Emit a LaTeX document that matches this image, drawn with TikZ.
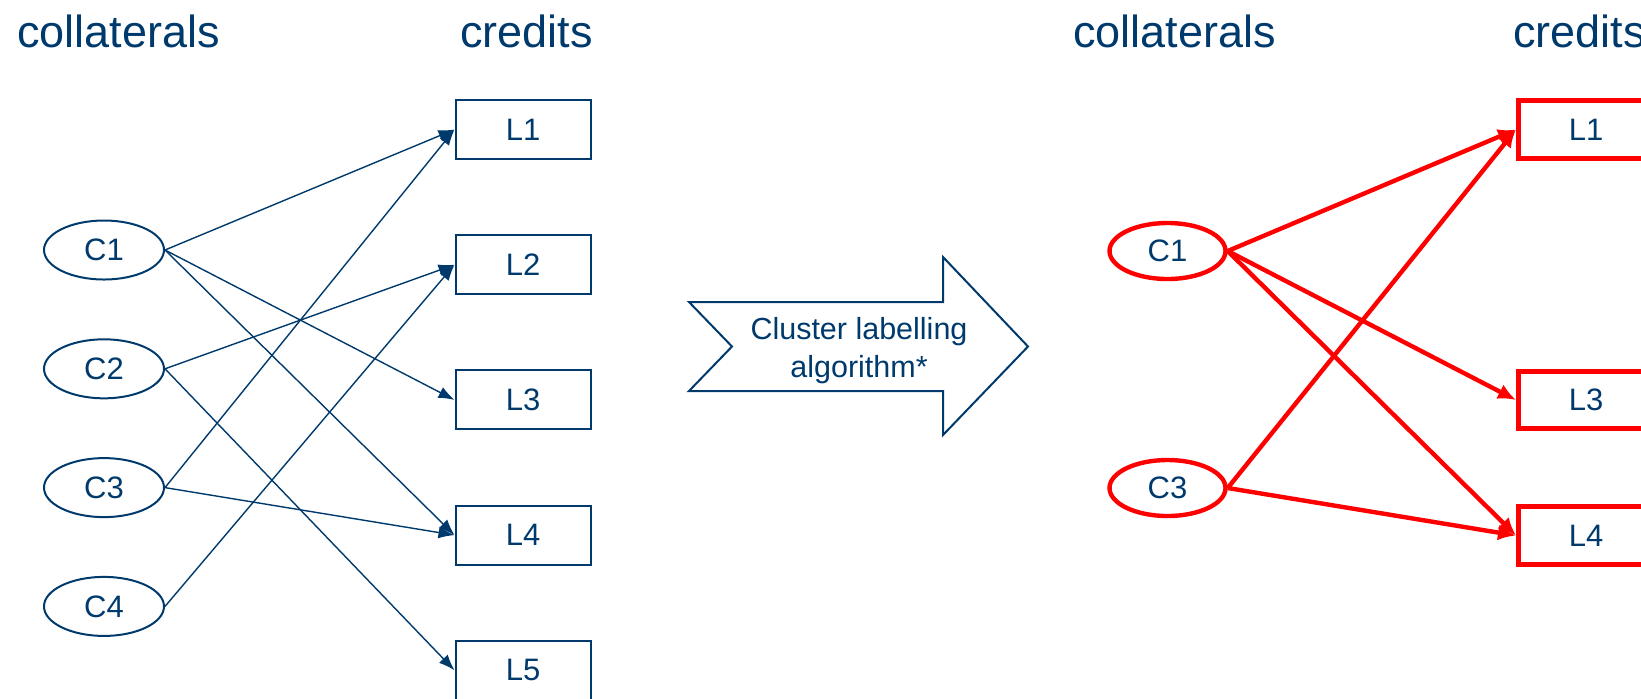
\documentclass[tikz,border=0pt]{standalone}
\usepackage{fontspec}
\setmainfont{Liberation Sans}
\usepackage{xcolor}
\usepackage{tikz}
\usetikzlibrary{shapes.geometric,arrows.meta}
\definecolor{navy}{HTML}{003A6C}
\definecolor{hotred}{RGB}{255,0,0}

\begin{document}
\begin{tikzpicture}[x=0.5pt, y=-0.5pt, node distance=67.6pt,
    head/.style={font=\fontsize{22.5}{27}\selectfont, text=navy, inner sep=0pt},
    collat/.style={ellipse, draw=navy, line width=1pt, minimum width=60pt, minimum height=29.5pt, inner sep=0pt, text=navy, font=\fontsize{15.5}{18}\selectfont},
    credit/.style={rectangle, draw=navy, line width=1pt, minimum width=67.5pt, minimum height=29.5pt, inner sep=0pt, text=navy, font=\fontsize{15.5}{18}\selectfont},
    hotcollat/.style={collat, draw=hotred, line width=2.2pt, minimum width=58pt, minimum height=28pt},
    hotcredit/.style={credit, draw=hotred, line width=2.5pt, minimum height=28.75pt},
    link/.style={-{Latex[length=8pt,width=6pt]}, draw=navy, line width=0.7pt},
    hotlink/.style={-{Latex[length=9pt,width=8pt]}, draw=hotred, line width=2.2pt}]

    \clip (0,0) rectangle (1641,698);

    \node[head, anchor=base west] (colL) at (17,47.7) {collaterals};
    \node[head, anchor=base east] (credL) at (593,47.7) {credits};
    \node[head, anchor=base west] (colR) at (1073,47.7) {collaterals};
    \node[head, anchor=base west] (credR) at (1513,47.7) {credits};

    \node[collat] (C1) at (104,250) {C1};
    \node[collat, below of=C1, node distance=59.4pt] (C2) {C2};
    \node[collat, below of=C2, node distance=59.4pt] (C3) {C3};
    \node[collat, below of=C3, node distance=59.4pt] (C4) {C4};

    \node[credit] (L1) at (523,129.5) {L1};
    \node[credit, below of=L1] (L2) {L2};
    \node[credit, below of=L2] (L3) {L3};
    \node[credit, below of=L3] (L4) {L4};
    \node[credit, below of=L4] (L5) {L5};

    \foreach \a/\b in {C1/L1, C1/L3, C1/L4, C2/L2, C2/L5, C3/L1, C3/L4, C4/L2}
        \draw[link] (\a.east) -- (\b.west);

    \draw[navy, line width=1pt, line join=miter] (689,302) -- (943,302) -- (943,257) -- (1028,346.5)
        -- (943,435) -- (943,391) -- (689,391) -- (732,346.5) -- cycle;
    \node[text=navy, align=center, font=\fontsize{15.25}{19.35}\selectfont] (algo) at (859,350.5) {Cluster labelling\\algorithm*};

    \node[hotcollat] (RC1) at (1167.5,251) {C1};
    \node[hotcollat] (RC3) at (1167.5,488) {C3};

    \node[hotcredit] (RL1) at (1586,129.5) {L1};
    \node[hotcredit] (RL3) at (1586,400) {L3};
    \node[hotcredit] (RL4) at (1586,535.5) {L4};

    \foreach \a/\b in {RC1/RL1, RC1/RL3, RC1/RL4, RC3/RL1, RC3/RL4}
        \draw[hotlink] (\a.east) -- (\b.west);
\end{tikzpicture}
\end{document}
